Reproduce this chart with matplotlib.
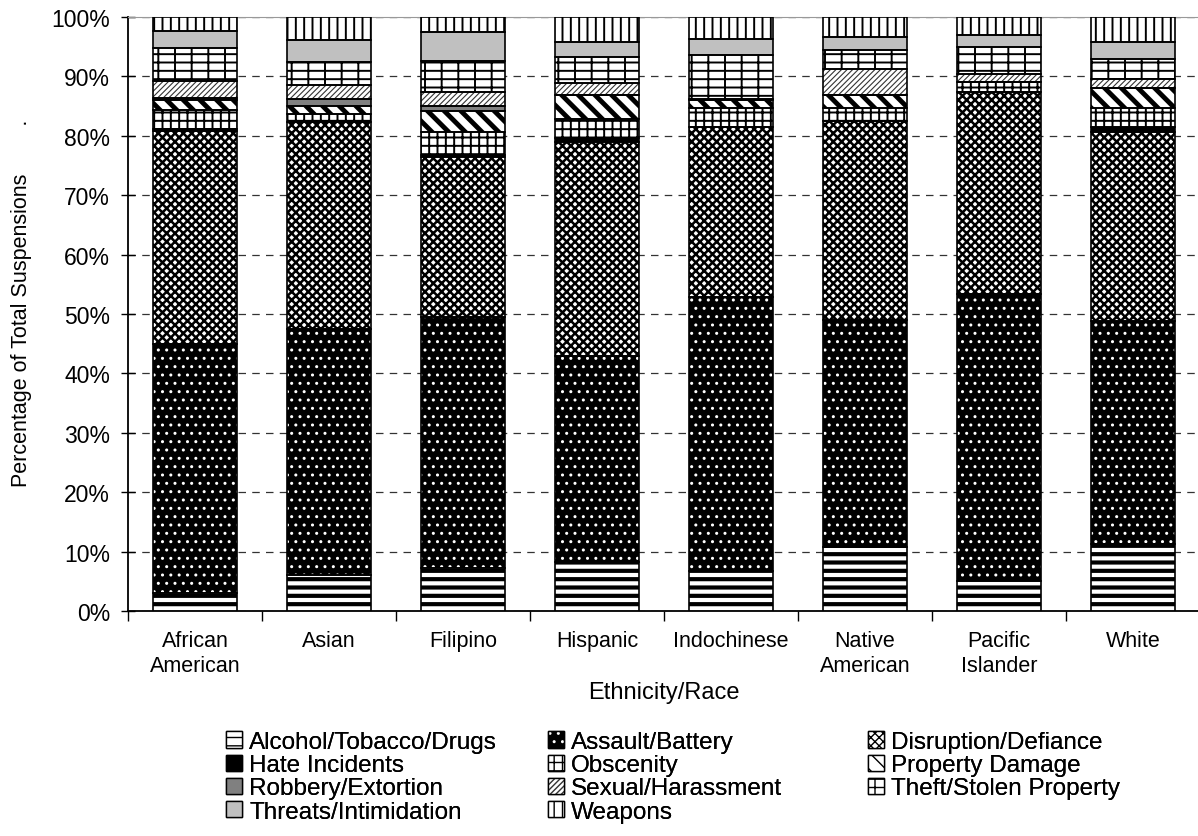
#suspensions by offense and ethnicity - stacked 100% bars
import matplotlib
matplotlib.use('Agg')
import matplotlib.pyplot as plt
from matplotlib.patches import Patch
from matplotlib.ticker import PercentFormatter, FixedLocator
import numpy as np

plt.rcParams['font.family'] = ['Liberation Sans', 'DejaVu Sans']

# categories
groups = ['African\nAmerican', 'Asian', 'Filipino', 'Hispanic', 'Indochinese',
          'Native\nAmerican', 'Pacific\nIslander', 'White']

# percentage of suspensions per offense (bottom to top)
alcohol    = [3.0, 6.0, 7.3, 8.2, 6.7, 10.7, 5.0, 11.2]
assault    = [42.0, 41.5, 42.2, 34.8, 46.1, 38.3, 48.3, 37.6]
disruption = [35.8, 34.9, 27.0, 35.9, 28.6, 33.5, 34.1, 31.9]
hate       = [0.3, 0.0, 0.2, 0.7, 0.0, 0.0, 0.0, 0.7]
obscenity  = [3.3, 1.2, 4.0, 3.3, 3.2, 2.1, 1.6, 3.2]
property_d = [1.6, 1.4, 3.4, 4.0, 1.4, 2.3, 0.0, 3.4]
robbery    = [0.3, 1.2, 0.9, 0.0, 0.0, 0.0, 0.0, 0.0]
sexual     = [3.0, 2.4, 2.3, 2.0, 0.2, 4.3, 1.4, 1.6]
theft      = [5.4, 3.8, 5.3, 4.3, 7.4, 3.3, 4.5, 3.3]
threats    = [2.9, 3.7, 4.8, 2.6, 2.7, 2.1, 2.1, 2.9]
weapons    = [2.4, 3.9, 2.6, 4.2, 3.7, 3.4, 3.0, 4.2]

labels = ['Alcohol/Tobacco/Drugs', 'Assault/Battery', 'Disruption/Defiance',
          'Hate Incidents', 'Obscenity', 'Property Damage', 'Robbery/Extortion',
          'Sexual/Harassment', 'Theft/Stolen Property', 'Threats/Intimidation', 'Weapons']
series = [alcohol, assault, disruption, hate, obscenity, property_d, robbery,
          sexual, theft, threats, weapons]

# (facecolor, hatch colour, hatch, hatch linewidth)
styles = [
    ('white', 'black', '--', 3.0),
    ('black', 'white', '..', 1.0),
    ('white', 'black', 'xxxx', 1.8),
    ('black', 'black', None, 1.0),
    ('white', 'black', '++', 1.4),
    ('white', 'black', '\\\\', 3.5),
    ('#808080', 'black', None, 1.0),
    ('white', '#333333', '//////', 0.8),
    ('white', 'black', '+-', 1.4),
    ('#c0c0c0', 'black', None, 1.0),
    ('white', 'black', '||', 1.4),
]

fig = plt.figure(figsize=(11.98, 8.37), dpi=100)
ax = fig.add_axes([128/1198, 1-612/837, 1072/1198, 594/837])

x = np.arange(len(groups))
w = 0.63
bottom = np.zeros(len(groups))
handles = []
for vals, lab, (fc, hc, hatch, hlw) in zip(series, labels, styles):
    vals = np.array(vals)
    fill = ax.bar(x, vals, w, bottom=bottom, color=fc, edgecolor=hc,
                  hatch=hatch, linewidth=0, zorder=3)
    outline = ax.bar(x, vals, w, bottom=bottom, color='none', edgecolor='black',
                     linewidth=1.2, zorder=4)
    for p in fill:
        if hasattr(p, 'set_hatch_linewidth'):
            p.set_hatch_linewidth(hlw)
    hf = Patch(facecolor=fc, edgecolor=hc, hatch=hatch, linewidth=0)
    if hasattr(hf, 'set_hatch_linewidth'):
        hf.set_hatch_linewidth(min(hlw, 1.5))
    ho = Patch(facecolor='none', edgecolor='black', linewidth=1.0)
    handles.append(((hf, ho), lab))
    bottom += vals

ax.set_xlim(-0.5, len(groups) - 0.5)
ax.set_ylim(0, 100)
ax.yaxis.set_major_locator(FixedLocator(np.arange(0, 101, 10)))
ax.yaxis.set_major_formatter(PercentFormatter(decimals=0))
ax.tick_params(axis='y', direction='inout', length=10, width=1, labelsize=16.5, pad=8)
ax.grid(axis='y', color='#333333', linestyle=(0, (6, 5)), linewidth=0.9, zorder=1)

# boundary ticks, labels centred between them
ax.set_xticks(np.arange(-0.5, len(groups), 1))
ax.set_xticklabels([])
ax.set_xticks(x, minor=True)
ax.set_xticklabels(groups, minor=True, fontsize=15.5)
ax.tick_params(axis='x', which='major', direction='out', length=7, width=1)
ax.tick_params(axis='x', which='minor', length=0, pad=14)

ax.spines['right'].set_visible(False)
ax.spines['top'].set_color('#999999')
ax.spines['left'].set_linewidth(1.3)
ax.spines['bottom'].set_linewidth(1.3)

ax.set_xlabel('Ethnicity/Race', fontsize=17, labelpad=4)
ax.set_ylabel('Percentage of Total Suspensions        .', fontsize=15.5)
ax.yaxis.set_label_coords(-0.09, 0.52)

# legend: three separate columns, filled row-wise like the original
cols = [[0, 3, 6, 9], [1, 4, 7, 10], [2, 5, 8]]
col_x = [226/1198, 548/1198, 868/1198]
for cx, idx in zip(col_x, cols):
    leg = fig.legend([handles[i][0] for i in idx], [handles[i][1] for i in idx],
                     loc='upper left', bbox_to_anchor=(cx, 1-732/837),
                     frameon=False, fontsize=17.5, handlelength=0.65, handleheight=0.65,
                     handletextpad=0.3, labelspacing=0.05, borderpad=0, borderaxespad=0)
    fig.add_artist(leg)

fig.savefig('out.png', dpi=100)
